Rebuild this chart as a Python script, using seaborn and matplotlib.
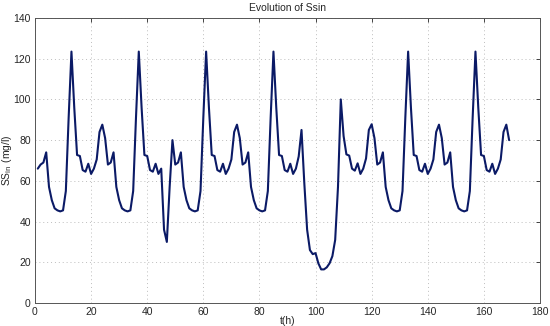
import numpy as np
import pandas as pd
import matplotlib
matplotlib.use("Agg")
import matplotlib.pyplot as plt
import seaborn as sns

# hourly influent SS values (t = 1..169 h)
hours = list(range(1, 170))
ssin = [66,
        # day 1 (t=2..25)
        68, 69, 74, 57, 50.5, 46.5, 45.5, 45, 45.5, 55, 91, 123.5,
        96, 72.7, 72.2, 65.3, 64.5, 68.4, 63.4, 66, 70.5, 84, 87.6, 81,
        # day 2 (t=26..49)
        68, 69, 74, 57, 50.5, 46.5, 45.5, 45, 45.5, 55, 91, 123.5,
        96, 72.7, 72.2, 65.3, 64.5, 68.4, 63.4, 66, 36, 30, 57, 80,
        # day 3 (t=50..73)
        68, 69, 74, 57, 50.5, 46.5, 45.5, 45, 45.5, 55, 91, 123.5,
        96, 72.7, 72.2, 65.3, 64.5, 68.4, 63.4, 66, 70.5, 84, 87.6, 81,
        # day 4 (t=74..97)
        68, 69, 74, 57, 50.5, 46.5, 45.5, 45, 45.5, 55, 91, 123.5,
        96, 72.7, 72.2, 65.3, 64.5, 68.4, 63.4, 66, 72, 85, 58.8, 36,
        # day 5 (t=98..121)
        26, 24, 24.5, 19.5, 16.5, 16.5, 17.5, 19.5, 23, 31, 57, 100,
        82, 73, 72.4, 66, 65, 68.6, 63.4, 66, 71, 85, 87.8, 81,
        # day 6 (t=122..145)
        68, 69, 74, 57, 50.5, 46.5, 45.5, 45, 45.5, 55, 91, 123.5,
        96, 72.7, 72.2, 65.3, 64.5, 68.4, 63.4, 66, 70.5, 84, 87.6, 81,
        # day 7 (t=146..169)
        68, 69, 74, 57, 50.5, 46.5, 45.5, 45, 45.5, 55, 91, 123.5,
        96, 72.7, 72.2, 65.3, 64.5, 68.4, 63.4, 66, 70.5, 84, 87.6, 80]

x_ticks = [0, 20, 40, 60, 80, 100, 120, 140, 160, 180]
y_ticks = [0, 20, 40, 60, 80, 100, 120, 140]

df = pd.DataFrame({"t": hours, "ssin": ssin})

sns.set_style("white")
plt.rcParams["font.family"] = ["Liberation Sans", "DejaVu Sans"]

fig = plt.figure(figsize=(5.5, 3.26), dpi=100)
ax = fig.add_axes([0.0636, 0.0706, 0.9182, 0.8742])

sns.lineplot(data=df, x="t", y="ssin", ax=ax, color="#0b1a66", linewidth=1.5)

ax.set_xlim(0, 180)
ax.set_ylim(0, 140)
ax.set_xticks(x_ticks)
ax.set_yticks(y_ticks)
ax.grid(True, linestyle=(0, (1, 3)), color="#bdbdbd", linewidth=0.7)
ax.tick_params(direction="in", top=True, right=True, labelsize=7.5,
               length=3, width=0.6, pad=3)
for s in ax.spines.values():
    s.set_color("#555555")
    s.set_linewidth(0.7)

ax.set_title("Evolution of Ssin", fontsize=7.5, pad=5)
ax.set_xlabel("t(h)", fontsize=7.5)
ax.xaxis.set_label_coords(0.5, -0.045)
ax.set_ylabel("SS$_{\\mathrm{in}}$ (mg/l)", fontsize=7.5)
ax.yaxis.set_label_coords(-0.042, 0.5)

fig.savefig("out.png", dpi=100)
